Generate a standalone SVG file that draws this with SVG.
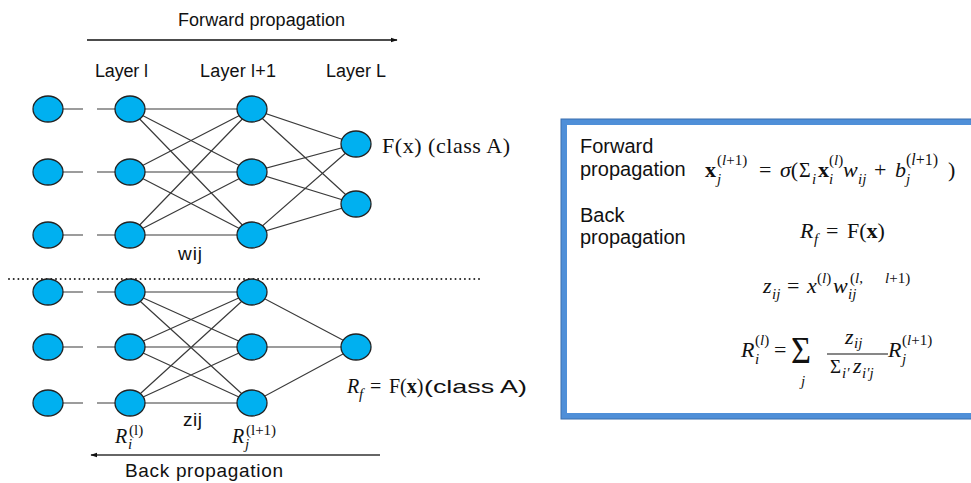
<svg xmlns="http://www.w3.org/2000/svg" width="971" height="483" viewBox="0 0 971 483">
<style>
.n{fill:#00b0f0;stroke:#222;stroke-width:1.3}
.e{stroke:#3a3a3a;stroke-width:1.2;fill:none}
.s{font-family:"Liberation Sans","DejaVu Sans",sans-serif;fill:#111}
.m{font-family:"Liberation Serif","DejaVu Serif",serif;fill:#111}
.i{font-style:italic}
.b{font-weight:bold}
.sm{font-size:15px}
</style>
<defs>
<marker id="ah" viewBox="0 0 10 10" refX="9" refY="5" markerWidth="7" markerHeight="7" markerUnits="userSpaceOnUse" orient="auto"><path d="M0,1.5 L10,5 L0,8.5 z" fill="#111"/></marker>
</defs>
<rect width="971" height="483" fill="#fff"/>

<g id="connectors">
<path class="e" d="M48,109H83M97,109H130M48,172H83M97,172H130M48,235H83M97,235H130"/>
<path class="e" d="M130,109L252,109M130,109L252,172M130,109L252,235M130,172L252,109M130,172L252,172M130,172L252,235M130,235L252,109M130,235L252,172M130,235L252,235"/>
<path class="e" d="M252,109L356,144M252,109L356,204M252,172L356,144M252,172L356,204M252,235L356,144M252,235L356,204"/>
<path class="e" d="M48,292H83M97,292H130M48,347H83M97,347H130M48,403H83M97,403H130"/>
<path class="e" d="M130,292L252,292M130,292L252,347M130,292L252,403M130,347L252,292M130,347L252,347M130,347L252,403M130,403L252,292M130,403L252,347M130,403L252,403"/>
<path class="e" d="M252,292L356,347M252,347L356,347M252,403L356,347"/>
<line x1="87" y1="40" x2="397" y2="40" stroke="#111" stroke-width="1.3" marker-end="url(#ah)"/>
<line x1="380" y1="455" x2="91" y2="455" stroke="#333" stroke-width="1.3" marker-end="url(#ah)"/>
<line x1="9" y1="279" x2="481" y2="279" stroke="#222" stroke-width="2" stroke-dasharray="0 4.7" stroke-linecap="round"/>
</g>

<g id="top-network">
<g id="t-in1"><ellipse class="n" cx="48" cy="109" rx="15" ry="13"/></g>
<g id="t-in2"><ellipse class="n" cx="48" cy="172" rx="15" ry="13"/></g>
<g id="t-in3"><ellipse class="n" cx="48" cy="235" rx="15" ry="13"/></g>
<g id="t-l1"><ellipse class="n" cx="130" cy="109" rx="15" ry="13"/></g>
<g id="t-l2"><ellipse class="n" cx="130" cy="172" rx="15" ry="13"/></g>
<g id="t-l3"><ellipse class="n" cx="130" cy="235" rx="15" ry="13"/></g>
<g id="t-m1"><ellipse class="n" cx="252" cy="109" rx="15" ry="13"/></g>
<g id="t-m2"><ellipse class="n" cx="252" cy="172" rx="15" ry="13"/></g>
<g id="t-m3"><ellipse class="n" cx="252" cy="235" rx="15" ry="13"/></g>
<g id="t-o1"><ellipse class="n" cx="356" cy="144" rx="15" ry="13"/></g>
<g id="t-o2"><ellipse class="n" cx="356" cy="204" rx="15" ry="13"/></g>
</g>

<g id="bottom-network">
<g id="b-in1"><ellipse class="n" cx="48" cy="292" rx="15" ry="13"/></g>
<g id="b-in2"><ellipse class="n" cx="48" cy="347" rx="15" ry="13"/></g>
<g id="b-in3"><ellipse class="n" cx="48" cy="403" rx="15" ry="13"/></g>
<g id="b-l1"><ellipse class="n" cx="130" cy="292" rx="15" ry="13"/></g>
<g id="b-l2"><ellipse class="n" cx="130" cy="347" rx="15" ry="13"/></g>
<g id="b-l3"><ellipse class="n" cx="130" cy="403" rx="15" ry="13"/></g>
<g id="b-m1"><ellipse class="n" cx="252" cy="292" rx="15" ry="13"/></g>
<g id="b-m2"><ellipse class="n" cx="252" cy="347" rx="15" ry="13"/></g>
<g id="b-m3"><ellipse class="n" cx="252" cy="403" rx="15" ry="13"/></g>
<g id="b-o1"><ellipse class="n" cx="356" cy="347" rx="15" ry="13"/></g>
</g>

<g id="labels-left">
<text class="s" x="178" y="26" font-size="18" textLength="167">Forward propagation</text>
<text class="s" x="95" y="77" font-size="18" textLength="53">Layer l</text>
<text class="s" x="200" y="77" font-size="18" textLength="76">Layer l+1</text>
<text class="s" x="326" y="77" font-size="18" textLength="60">Layer L</text>
<text class="m" x="382" y="153" font-size="22" textLength="128">F(x) (class A)</text>
<text class="s" x="178" y="260" font-size="19" textLength="24">wij</text>
<text class="s" x="183" y="426" font-size="19" textLength="19">zij</text>
<text class="s" x="125" y="477" font-size="19" textLength="158">Back propagation</text>
<text class="m" font-size="20" y="443"><tspan x="115" class="i">R</tspan><tspan x="128" y="449" class="i sm">i</tspan><tspan x="129" y="435" class="sm">(l)</tspan></text>
<text class="m" font-size="20" y="443"><tspan x="232" class="i">R</tspan><tspan x="245" y="449" class="i sm">j</tspan><tspan x="246" y="435" class="sm">(l+1)</tspan></text>
<text class="m" font-size="20" y="393"><tspan x="347" class="i">R</tspan><tspan x="359" y="399" class="i sm">f</tspan><tspan x="370" y="393">=</tspan><tspan x="389">F(</tspan><tspan class="b">x</tspan><tspan>)</tspan></text>
<text class="s" x="424" y="393" font-size="19" textLength="103" lengthAdjust="spacingAndGlyphs">(class A)</text>
</g>

<g id="formula-box">
<rect x="564" y="122" width="420" height="294" fill="#fff" stroke="#4f8fd8" stroke-width="6"/>
<rect x="561" y="119" width="426" height="300" fill="none" stroke="#3a6fae" stroke-width="1"/>
<text class="s" x="580" y="153" font-size="20">Forward</text>
<text class="s" x="580" y="176" font-size="20">propagation</text>
<text class="s" x="580" y="222" font-size="20">Back</text>
<text class="s" x="580" y="244" font-size="20">propagation</text>

<text class="m" font-size="22" y="177"><tspan x="705" class="b">x</tspan><tspan x="717" y="184" class="i sm">j</tspan><tspan x="717" y="165" class="sm">(<tspan class="i">l</tspan>+1)</tspan><tspan x="759" y="177">=</tspan><tspan x="780" class="i">σ</tspan><tspan>(</tspan><tspan x="799" font-size="20">Σ</tspan><tspan x="812" y="184" class="i sm">i</tspan><tspan x="818" y="177" class="b">x</tspan><tspan x="829" y="165" class="sm">(<tspan class="i">l</tspan>)</tspan><tspan x="829" y="184" class="i sm">i</tspan><tspan x="843" y="177" class="i">w</tspan><tspan x="858" y="184" class="i sm">ij</tspan><tspan x="874" y="177">+</tspan><tspan x="895" class="i">b</tspan><tspan x="906" y="184" class="i sm">j</tspan><tspan x="906" y="165" font-size="16">(<tspan class="i">l</tspan>+1)</tspan><tspan x="948" y="177">)</tspan></text>

<text class="m" font-size="22" y="238"><tspan x="800" class="i">R</tspan><tspan x="814" y="244" class="i sm">f</tspan><tspan x="826" y="238">=</tspan><tspan x="847">F(</tspan><tspan class="b">x</tspan><tspan>)</tspan></text>

<text class="m" font-size="22" y="293"><tspan x="763" class="i">z</tspan><tspan x="772" y="299" class="i sm">ij</tspan><tspan x="787" y="293">=</tspan><tspan x="807" class="i">x</tspan><tspan x="817" y="283" class="sm">(<tspan class="i">l</tspan>)</tspan><tspan x="833" y="293" class="i">w</tspan><tspan x="848" y="299" class="i sm">ij</tspan><tspan x="850" y="283" class="sm">(<tspan class="i">l</tspan>,</tspan><tspan x="885" y="283" class="sm"><tspan class="i">l</tspan>+1)</tspan></text>

<text class="m" font-size="22" y="357"><tspan x="741" class="i">R</tspan><tspan x="755" y="364" class="i sm">i</tspan><tspan x="755" y="345" class="sm">(<tspan class="i">l</tspan>)</tspan><tspan x="774" y="357">=</tspan></text>
<text class="m" x="791" y="363" font-size="38" textLength="20" lengthAdjust="spacingAndGlyphs">Σ</text>
<text class="m i sm" x="801" y="386">j</text>
<text class="m" font-size="22" y="344"><tspan x="845" class="i">z</tspan><tspan x="854" y="348" class="i sm">ij</tspan></text>
<line x1="827" y1="354" x2="888" y2="354" stroke="#111" stroke-width="1.2"/>
<text class="m" font-size="22" y="373"><tspan x="830" font-size="19">Σ</tspan><tspan x="842" y="378" class="i sm">i′</tspan><tspan x="853" y="373" class="i">z</tspan><tspan x="862" y="378" class="i sm">i′j</tspan></text>
<text class="m" font-size="22" y="357"><tspan x="888" class="i">R</tspan><tspan x="902" y="364" class="i sm">j</tspan><tspan x="902" y="345" class="sm">(<tspan class="i">l</tspan>+1)</tspan></text>
</g>
</svg>
